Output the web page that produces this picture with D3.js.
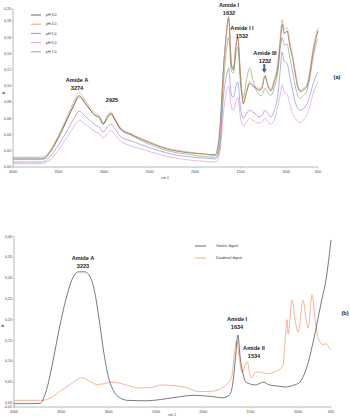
<!DOCTYPE html>
<html><head><meta charset="utf-8">
<script src="https://cdn.jsdelivr.net/npm/d3@7"></script>
<style>body{margin:0;background:#fff}svg{display:block;font-family:"Liberation Sans",Arial,sans-serif}</style>
</head><body>
<script>
// ---------- Panel (a) data ----------
const wavenumA = [4000,3800,3700,3650,3600,3500,3400,3330,3274,3200,3100,3050,3010,2960,2925,2880,2820,2700,2500,2300,2100,1900,1780,1750,1720,1690,1660,1632,1600,1580,1550,1532,1500,1470,1440,1400,1370,1340,1300,1270,1232,1200,1170,1130,1090,1060,1044,1020,990,960,930,900,870,845,810,770,740,710,680,650];
const pH30 = [.010,.010,.010,.011,.017,.036,.060,.077,.088,.078,.064,.061,.053,.062,.066,.058,.047,.040,.030,.022,.018,.016,.015,.025,.060,.120,.160,.184,.125,.120,.150,.160,.110,.078,.090,.103,.100,.098,.095,.096,.112,.100,.094,.105,.125,.160,.176,.165,.168,.150,.135,.115,.098,.093,.095,.100,.115,.138,.155,.168];
const pH40 = [.009,.009,.009,.010,.018,.039,.064,.081,.092,.081,.067,.063,.055,.064,.068,.060,.049,.041,.031,.023,.019,.016,.014,.020,.050,.115,.160,.186,.127,.122,.152,.162,.112,.080,.092,.106,.102,.100,.097,.098,.114,.102,.096,.108,.130,.166,.182,.170,.172,.155,.138,.118,.100,.095,.097,.102,.118,.142,.160,.172];
const pH50 = [.006,.006,.006,.007,.012,.027,.046,.060,.069,.062,.052,.049,.043,.050,.053,.047,.038,.032,.024,.017,.013,.011,.010,.014,.035,.085,.110,.122,.088,.086,.100,.105,.072,.060,.065,.070,.068,.066,.062,.063,.070,.066,.062,.070,.090,.125,.142,.130,.128,.112,.095,.080,.072,.070,.072,.078,.088,.100,.110,.117];
const pH60 = [.004,.004,.004,.005,.008,.021,.038,.050,.058,.052,.044,.041,.036,.042,.045,.040,.032,.026,.019,.013,.009,.007,.006,.009,.025,.065,.090,.100,.073,.070,.082,.086,.060,.050,.055,.060,.058,.056,.054,.055,.060,.056,.053,.058,.075,.092,.101,.092,.090,.078,.066,.060,.056,.055,.058,.065,.075,.088,.098,.105];
const pH70 = [.012,.012,.012,.013,.019,.038,.060,.076,.086,.077,.064,.061,.053,.061,.065,.058,.047,.039,.028,.020,.016,.013,.012,.016,.040,.100,.140,.160,.118,.116,.140,.148,.100,.085,.105,.122,.110,.098,.090,.088,.097,.092,.088,.098,.118,.150,.160,.150,.152,.135,.118,.100,.088,.085,.088,.095,.110,.130,.148,.158];
const seriesNamesA = ["pH 3.0","pH 4.0","pH 5.0","pH 6.0","pH 7.0"];
const xTicksA = [4000,3500,3000,2500,2000,1500,1000,650];
const yTicksA = [0,0.02,0.04,0.06,0.08,0.10,0.12,0.14,0.16,0.18,0.195];
const yTickLabelsA = ["0,00","0,02","0,04","0,06","0,08","0,10","0,12","0,14","0,16","0,18","0,20"];

// ---------- Panel (b) data ----------
const wavenumGastric = [4000,3800,3720,3680,3640,3580,3520,3450,3380,3320,3250,3200,3150,3100,3050,3000,2950,2900,2800,2600,2450,2300,2100,1900,1800,1720,1680,1655,1634,1610,1580,1550,1500,1450,1400,1368,1300,1200,1135,1050,977,940,892,850,818,786,750,700,650];
const gastric = [-.002,-.002,-.001,.015,.045,.110,.180,.250,.300,.315,.315,.305,.270,.200,.120,.060,.030,.015,.006,.005,.008,.013,.018,.015,.012,.020,.060,.120,.163,.110,.070,.050,.045,.043,.047,.050,.043,.040,.038,.042,.050,.065,.096,.135,.168,.205,.245,.300,.392];
const wavenumDuodenal = [4000,3700,3650,3500,3400,3281,3200,3120,3050,2960,2900,2800,2680,2550,2450,2300,2200,2050,1900,1800,1750,1700,1670,1648,1620,1590,1560,1534,1510,1490,1450,1400,1330,1273,1200,1157,1135,1114,1104,1061,1030,998,945,913,892,850,818,786,733,702,660];
const duodenal = [.006,.006,.008,.030,.045,.060,.052,.044,.046,.050,.048,.042,.036,.037,.043,.041,.038,.027,.028,.036,.045,.062,.120,.150,.110,.072,.090,.099,.070,.060,.074,.074,.070,.072,.080,.090,.150,.200,.165,.247,.200,.170,.247,.200,.180,.260,.200,.156,.140,.142,.127];
const seriesNamesB = ["Gastric digest","Duodenal digest"];
const xTicksB = [4000,3500,3000,2500,2000,1500,1000,650];
const yTicksB = [-0.01,0,0.05,0.10,0.15,0.20,0.25,0.30,0.35,0.40];
const yTickLabelsB = ["-0,01","0,00","0,05","0,10","0,15","0,20","0,25","0,30","0,35","0,40"];

const W = 350, H = 419;
const svg = d3.select("body").append("svg").attr("width", W).attr("height", H);
const axisColor = "#a6a6a6";
const tickFont = 3.6;

function drawAxes(g, x, y, xTicks, yTicks, yLabels, x0, y0) {
  g.append("line").attr("x1", x0).attr("x2", x0).attr("y1", y.range()[1]).attr("y2", y0).attr("stroke", axisColor).attr("stroke-width", 0.8);
  yTicks.forEach((t, i) => {
    g.append("line").attr("x1", x0 - 1.5).attr("x2", x0).attr("y1", y(t)).attr("y2", y(t)).attr("stroke", axisColor).attr("stroke-width", 0.6);
    g.append("text").attr("x", x0 - 2).attr("y", y(t) + 1.2).attr("text-anchor", "end").attr("font-size", tickFont).attr("fill", "#444").text(yLabels[i]);
  });
  g.append("line").attr("x1", x0).attr("x2", x.range()[1]).attr("y1", y0).attr("y2", y0).attr("stroke", axisColor).attr("stroke-width", 0.8);
  xTicks.forEach(t => {
    g.append("line").attr("x1", x(t)).attr("x2", x(t)).attr("y1", y0).attr("y2", y0 + 1.5).attr("stroke", axisColor).attr("stroke-width", 0.6);
    g.append("text").attr("x", x(t)).attr("y", y0 + 6).attr("text-anchor", "middle").attr("font-size", tickFont).attr("fill", "#444").text(t);
  });
}

// ---------- Panel (a) ----------
const gA = svg.append("g");
const xA = d3.scaleLinear().domain([4000, 650]).range([13, 318]);
const yA = d3.scaleLinear().domain([0, 0.195]).range([167, 9]);
drawAxes(gA, xA, yA, xTicksA, yTicksA, yTickLabelsA, 13, 167);
const colorsA = ["#3a3a3a", "#f08a5d", "#7b7bd6", "#d88ad8", "#6e9e5e"];
const seriesA = [pH30, pH40, pH50, pH60, pH70];
const lineA = d3.line().x((d, i) => xA(wavenumA[i])).y(d => yA(d)).curve(d3.curveMonotoneX);
[3, 2, 4, 0, 1].forEach(k => {
  gA.append("path").attr("d", lineA(seriesA[k])).attr("fill", "none").attr("stroke", colorsA[k]).attr("stroke-width", 0.6);
});
seriesNamesA.forEach((n, i) => {
  const yy = 15 + i * 9.2;
  gA.append("line").attr("x1", 31).attr("x2", 41).attr("y1", yy).attr("y2", yy).attr("stroke", colorsA[i]).attr("stroke-width", 0.8);
  gA.append("text").attr("x", 46).attr("y", yy + 1.2).attr("font-size", 3.6).attr("fill", "#333").text(n);
});
gA.append("text").attr("transform", "translate(5,93) rotate(-90)").attr("font-size", 3.6).attr("fill", "#444").attr("text-anchor", "middle").text("A");
gA.append("text").attr("x", 165).attr("y", 179).attr("font-size", 3.6).attr("fill", "#444").attr("text-anchor", "middle").text("cm-1");
function ann(g, x, y, lines) {
  lines.forEach((s, i) => g.append("text").attr("x", x).attr("y", y + i * 8).attr("text-anchor", "middle").attr("font-size", 5.6).attr("font-weight", "bold").attr("fill", "#222").text(s));
}
ann(gA, 77, 82, ["Amide A", "3274"]);
ann(gA, 112, 102, ["2925"]);
ann(gA, 229, 7, ["Amide I", "1632"]);
ann(gA, 242, 30, ["Amide I I", "1532"]);
ann(gA, 265, 55, ["Amide III", "1232"]);
const ax = xA(1240);
gA.append("path").attr("d", `M${ax-1},64 L${ax+1},64 L${ax+1},69 L${ax+2.5},69 L${ax},73 L${ax-2.5},69 L${ax-1},69 Z`).attr("fill", "#3a64b0");
gA.append("text").attr("x", 337).attr("y", 79).attr("text-anchor", "middle").attr("font-size", 5.6).attr("font-weight", "bold").attr("fill", "#222").text("(a)");

// ---------- Panel (b) ----------
const gB = svg.append("g");
const xB = d3.scaleLinear().domain([4000, 650]).range([14, 331]);
const yB = d3.scaleLinear().domain([-0.01, 0.40]).range([407, 236.5]);
drawAxes(gB, xB, yB, xTicksB, yTicksB, yTickLabelsB, 14, 407);
const colorsB = ["#404040", "#f4926a"];
const lineG = d3.line().x((d, i) => xB(wavenumGastric[i])).y(d => yB(d)).curve(d3.curveMonotoneX);
const lineD = d3.line().x((d, i) => xB(wavenumDuodenal[i])).y(d => yB(d)).curve(d3.curveMonotoneX);
gB.append("path").attr("d", lineD(duodenal)).attr("fill", "none").attr("stroke", colorsB[1]).attr("stroke-width", 0.7);
gB.append("path").attr("d", lineG(gastric)).attr("fill", "none").attr("stroke", colorsB[0]).attr("stroke-width", 0.7);
seriesNamesB.forEach((n, i) => {
  const yy = 246 + i * 12;
  gB.append("line").attr("x1", 195).attr("x2", 206).attr("y1", yy).attr("y2", yy).attr("stroke", colorsB[i]).attr("stroke-width", 0.8);
  gB.append("text").attr("x", 216).attr("y", yy + 1.2).attr("font-size", 3.6).attr("fill", "#333").text(n);
});
gB.append("text").attr("transform", "translate(4,326) rotate(-90)").attr("font-size", 3.6).attr("fill", "#444").attr("text-anchor", "middle").text("A");
gB.append("text").attr("x", 172).attr("y", 416).attr("font-size", 3.6).attr("fill", "#444").attr("text-anchor", "middle").text("cm-1");
ann(gB, 83, 260, ["Amide A", "3223"]);
ann(gB, 237, 321, ["Amide I", "1634"]);
ann(gB, 254, 350, ["Amide II", "1534"]);
gB.append("text").attr("x", 345).attr("y", 315).attr("text-anchor", "middle").attr("font-size", 5.6).attr("font-weight", "bold").attr("fill", "#222").text("(b)");
</script>
</body></html>
